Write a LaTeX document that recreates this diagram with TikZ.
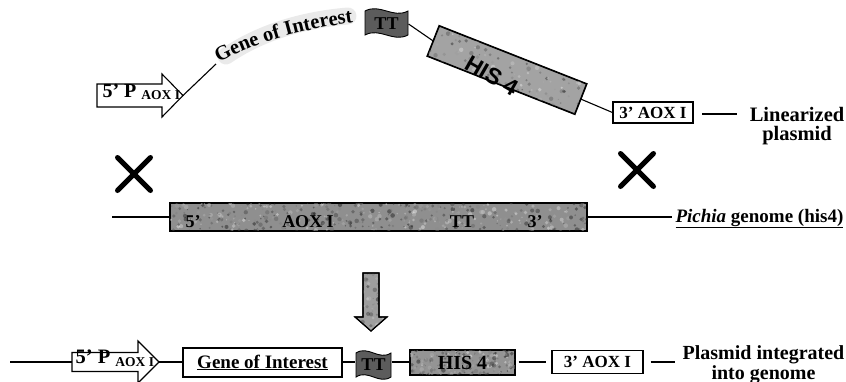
\documentclass[tikz,border=0pt]{standalone}
\usepackage{fontspec}
\setmainfont{Liberation Serif}
\newfontfamily\hisfont{Liberation Sans}
\usetikzlibrary{decorations.text}
\definecolor{genc}{gray}{0.56}
\definecolor{hisc}{gray}{0.64}
\definecolor{hisbc}{gray}{0.58}
\definecolor{arrc}{gray}{0.62}
\definecolor{flagc}{gray}{0.36}
\definecolor{hazec}{gray}{0.9}
\newcommand\fsz[1]{\fontsize{#1}{#1}\selectfont}
% wavy flag: centre x, centre y, half width, half height
\newcommand\drawflag[4]{%
  \path[draw, fill=flagc, line width=0.9pt]
    (#1-#3, #2-#4) .. controls (#1-#3*0.3, #2-#4-8) and (#1+#3*0.3, #2-#4+8) .. (#1+#3, #2-#4)
    -- (#1+#3, #2+#4) .. controls (#1+#3*0.3, #2+#4+8) and (#1-#3*0.3, #2+#4-8) .. (#1-#3, #2+#4)
    -- cycle;}
% mottled texture inside a (possibly rotated) node: name, count, xmin, xmax, ymin, ymax
\newcommand\speckle[6]{%
  \begin{scope}
    \clip (#1.north west) -- (#1.north east) -- (#1.south east) -- (#1.south west) -- cycle;
    \foreach \k in {1,...,#2}{%
      \pgfmathsetmacro\sx{#3+rnd*(#4-#3)}%
      \pgfmathsetmacro\sy{#5+rnd*(#6-#5)}%
      \pgfmathsetmacro\sr{0.6+rnd*1.7}%
      \pgfmathsetmacro\sg{int(rnd*100)}%
      \fill[black!\sg, opacity=0.4] (\sx,\sy) circle[radius=\sr pt];
    }
  \end{scope}
  \draw (#1.north west) -- (#1.north east) -- (#1.south east) -- (#1.south west) -- cycle;}
\begin{document}
\begin{tikzpicture}[x=1pt, y=-1pt, line width=1.1pt,
  boxtxt/.style={font=\bfseries\fsz{17}, inner sep=0pt},
  plainbox/.style={draw, fill=white, inner sep=0pt, line width=1.1pt},
  lbl/.style={font=\bfseries\fontsize{20.5}{19}\selectfont, inner sep=0pt, align=center},
  crossmark/.style={line width=5pt, line cap=round},
  flagnode/.style={inner sep=0pt, font=\bfseries\fsz{18}}]
\pgfmathsetseed{3}
\useasboundingbox (0,0) rectangle (846,381);
\clip (0,0) rectangle (846,381);

% ---------------- linearized plasmid ----------------
\path[draw, fill=white] (97,84) -- (162,84) -- (162,74) -- (183,95.5) -- (162,117) -- (162,107) -- (97,107) -- cycle;
\coordinate (p1tip) at (183,95.5);
\node[anchor=base west, inner sep=0pt] (p1txt) at (102,97) {\bfseries\fsz{20}5’ P \raisebox{-2pt}{\fsz{13.5}AOX I}};

\draw[hazec, line width=17pt, line cap=round, opacity=0.8] (226,56) .. controls (258,34) and (300,20) .. (348,16);
\coordinate (g1s) at (216,64);
\draw (p1tip) -- (g1s);
\path[decorate, decoration={text along path, text align=center,
   text={|\bfseries\fsz{20.5}|Gene of Interest}}]
   (216,64) .. controls (250,45) and (295,30) .. (356,22);

\drawflag{386.5}{23}{21.5}{12}
\node[flagnode, minimum width=43pt, minimum height=24pt] (tt1) at (386.5,24) {TT};

\node[draw, fill=hisc, minimum width=158pt, minimum height=32pt, rotate=-21.5, inner sep=0pt] (his1) at (507,70) {};
\speckle{his1}{320}{420}{595}{25}{118}
\node[rotate=-30, font=\hisfont\bfseries\fsz{23}, inner sep=0pt] (his1t) at (492,76) {HIS 4};
\draw (tt1.east) -- (his1.west);

\node[plainbox, boxtxt, minimum width=80pt, minimum height=21pt] (aox1) at (653,112.5) {3’ AOX I};
\draw (his1.east) -- (aox1.west);

\coordinate (lin1) at (702,114);
\coordinate (lin2) at (737,114);
\draw (lin1) -- (lin2);
\node[lbl, anchor=north] (lintxt) at (797,107) {Linearized\\plasmid};

% ---------------- crossover marks ----------------
\draw[crossmark] (117.5,157.5) -- (150.5,190.5) (150.5,157.5) -- (117.5,190.5);
\draw[crossmark] (620.5,153.5) -- (653.5,186.5) (653.5,153.5) -- (620.5,186.5);

% ---------------- genome ----------------
\node[draw, fill=genc, minimum width=417pt, minimum height=28pt, inner sep=0pt] (gen) at (378.5,217) {};
\speckle{gen}{450}{170}{587}{203}{231}
\coordinate (genL) at (112,217);
\coordinate (genR) at (672,217);
\draw (genL) -- (gen.west);
\draw (gen.east) -- (genR);
\node[boxtxt, font=\bfseries\fsz{18}, anchor=base] (g5) at (193,227.5) {5’};
\node[boxtxt, font=\bfseries\fsz{18}, anchor=base] (gaox) at (308,227.5) {AOX I};
\node[boxtxt, font=\bfseries\fsz{18}, anchor=base] (gtt) at (462,227.5) {TT};
\node[boxtxt, font=\bfseries\fsz{18}, anchor=base] (g3) at (535,227.5) {3’};
\node[anchor=base west, inner sep=0pt, font=\bfseries\fsz{19}] (pich) at (675,222) {\underline{\textit{Pichia} genome (his4)}};

% ---------------- arrow ----------------
\path[draw, fill=arrc] (363,273) -- (379,273) -- (379,317) -- (387,317) -- (371,331) -- (355,317) -- (363,317) -- cycle;
\begin{scope}
  \clip (363,273) -- (379,273) -- (379,317) -- (387,317) -- (371,331) -- (355,317) -- (363,317) -- cycle;
  \foreach \k in {1,...,90}{%
    \pgfmathsetmacro\sx{354+rnd*34}%
    \pgfmathsetmacro\sy{272+rnd*60}%
    \pgfmathsetmacro\sr{0.6+rnd*1.7}%
    \pgfmathsetmacro\sg{int(rnd*100)}%
    \fill[black!\sg, opacity=0.4] (\sx,\sy) circle[radius=\sr pt];
  }
\end{scope}
\path[draw] (363,273) -- (379,273) -- (379,317) -- (387,317) -- (371,331) -- (355,317) -- (363,317) -- cycle;

% ---------------- integrated plasmid ----------------
\coordinate (b0) at (10,362);
\path[draw, fill=white] (72,352.5) -- (138,352.5) -- (138,341) -- (159,362) -- (138,383) -- (138,371.5) -- (72,371.5) -- cycle;
\coordinate (p2tail) at (72,362);
\coordinate (p2tip) at (159,362);
\draw (b0) -- (p2tail);
\node[anchor=base west, inner sep=0pt] (p2txt) at (75,363.5) {\bfseries\fsz{20.5}5’ P \raisebox{-2.5pt}{\fsz{13.5}AOX I}};

\node[plainbox, font=\bfseries\fsz{19}, minimum width=159pt, minimum height=29pt] (goi2) at (262.5,362.5) {\underline{Gene of Interest}};
\draw (p2tip) -- (p2tip -| goi2.west);

\drawflag{373.5}{365}{17.5}{12}
\node[flagnode, minimum width=35pt, minimum height=24pt] (tt2) at (373.5,365) {TT};
\draw (goi2.east |- p2tip) -- (tt2.west |- p2tip);

\node[draw, fill=hisbc, inner sep=0pt, minimum width=105pt, minimum height=25pt] (his2) at (462.5,362.5) {};
\speckle{his2}{200}{409}{516}{349}{376}
\node[inner sep=0pt, font=\bfseries\fsz{20}] (his2t) at (462.5,363) {HIS 4};
\draw (tt2.east |- p2tip) -- (his2.west |- p2tip);

\node[plainbox, boxtxt, minimum width=91pt, minimum height=23pt] (aox2) at (597.5,362) {3’ AOX I};
\draw[shorten <=3pt, shorten >=5pt] (his2.east |- p2tip) -- (aox2.west |- p2tip);

\coordinate (b1) at (675,362);
\draw[shorten <=7pt] (aox2.east |- p2tip) -- (b1);
\node[lbl, font=\bfseries\fontsize{20}{14.5}\selectfont, anchor=north] (inttxt) at (763.5,345.5) {Plasmid integrated\\into genome};
\end{tikzpicture}
\end{document}
